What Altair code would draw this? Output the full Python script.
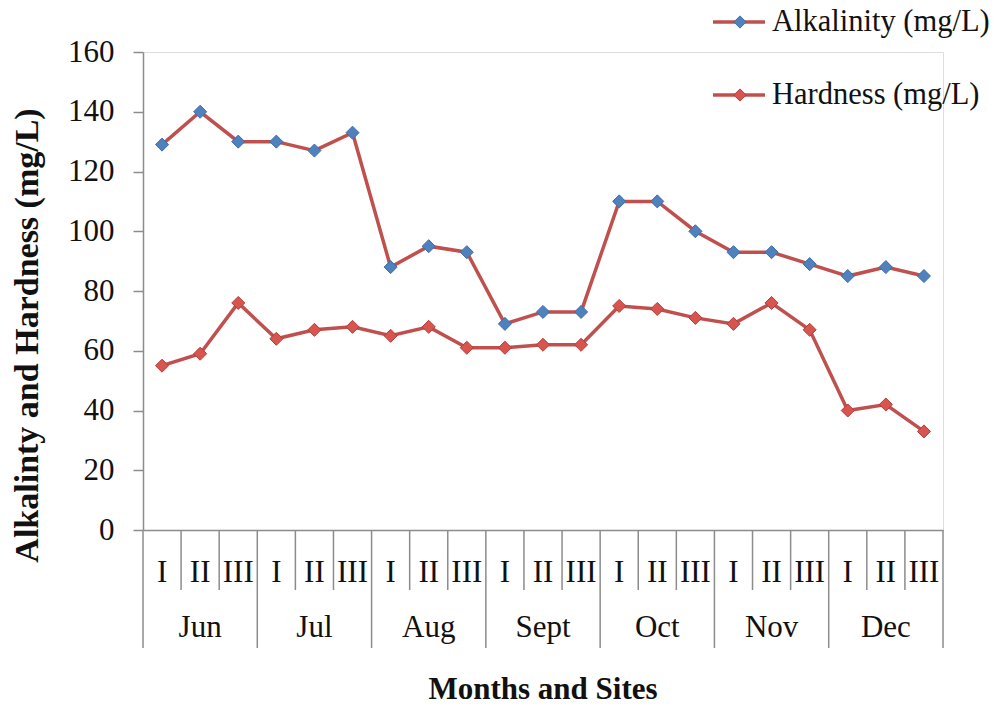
import altair as alt
import pandas as pd

months = ["Jun", "Jul", "Aug", "Sept", "Oct", "Nov", "Dec"]
sites = ["I", "II", "III"]
alkalinity = [129, 140, 130, 130, 127, 133, 88, 95, 93, 69, 73, 73, 110, 110, 100, 93, 93, 89, 85, 88, 85]
hardness = [55, 59, 76, 64, 67, 68, 65, 68, 61, 61, 62, 62, 75, 74, 71, 69, 76, 67, 40, 42, 33]
series_names = ["Alkalinity (mg/L)", "Hardness (mg/L)"]
y_ticks = [0, 20, 40, 60, 80, 100, 120, 140, 160]

FONT = "Liberation Serif"
LINE_RED = "#C0504D"
BLUE_FILL = "#4F81BD"
BLUE_STROKE = "#3C6DAE"
RED_FILL = "#D9534F"
RED_STROKE = "#B23F3B"
AXIS_GREY = "#8C8C8C"

n = len(months) * len(sites)
rows = []
for i in range(n):
    rows.append({"pos": i + 0.5, "value": alkalinity[i], "series": series_names[0],
                 "site": sites[i % 3], "month": months[i // 3]})
for i in range(n):
    rows.append({"pos": i + 0.5, "value": hardness[i], "series": series_names[1],
                 "site": sites[i % 3], "month": months[i // 3]})
df = pd.DataFrame(rows)

site_df = pd.DataFrame({"pos": [i + 0.5 for i in range(n)], "site": [sites[i % 3] for i in range(n)]})
month_df = pd.DataFrame({"pos": [m * 3 + 1.5 for m in range(len(months))], "month": months})
bounds = list(range(n + 1))
sep_df = pd.DataFrame({"b": bounds, "long": [b % 3 == 0 for b in bounds]})

xscale = alt.Scale(domain=[0, n], nice=False, zero=False)
yscale = alt.Scale(domain=[0, 160], nice=False)

x_enc = alt.X("pos:Q", scale=xscale,
              axis=alt.Axis(labels=False, ticks=False, grid=False, title=None,
                            domainColor=AXIS_GREY, domainWidth=1.5))
y_enc = alt.Y("value:Q", scale=yscale,
              axis=alt.Axis(values=y_ticks, grid=False, domainColor=AXIS_GREY, domainWidth=1.5,
                            tickColor=AXIS_GREY, tickSize=10, tickWidth=1.5,
                            labelFont=FONT, labelFontSize=31, labelColor="#111",
                            labelPadding=19,
                            title="Alkalinty and Hardness (mg/L)", titleFont=FONT,
                            titleFontSize=34, titleFontWeight="bold", titleColor="#111",
                            titleAngle=-90, titleX=-116, titleY=283,
                            titleAlign="center", titleBaseline="middle"))

lines = alt.Chart(df).mark_line(color=LINE_RED, strokeWidth=3.5).encode(
    x=x_enc, y=y_enc, detail="series:N")

points = alt.Chart(df).mark_point(shape="diamond", filled=True, size=170, strokeWidth=1, opacity=1).encode(
    x=alt.X("pos:Q", scale=xscale),
    y=alt.Y("value:Q", scale=yscale),
    fill=alt.Fill("series:N", scale=alt.Scale(domain=series_names, range=[BLUE_FILL, RED_FILL]), legend=None),
    stroke=alt.Stroke("series:N", scale=alt.Scale(domain=series_names, range=[BLUE_STROKE, RED_STROKE]), legend=None),
)

seps_long = alt.Chart(sep_df[sep_df["long"]]).mark_rule(color=AXIS_GREY, strokeWidth=1.5).encode(
    x=alt.X("b:Q", scale=xscale), y=alt.value(478), y2=alt.value(596))
seps_short = alt.Chart(sep_df[~sep_df["long"]]).mark_rule(color=AXIS_GREY, strokeWidth=1.5).encode(
    x=alt.X("b:Q", scale=xscale), y=alt.value(478), y2=alt.value(538))

site_text = alt.Chart(site_df).mark_text(font=FONT, fontSize=31, color="#111", baseline="middle").encode(
    x=alt.X("pos:Q", scale=xscale), y=alt.value(521), text="site:N")
month_text = alt.Chart(month_df).mark_text(font=FONT, fontSize=31, color="#111", baseline="middle").encode(
    x=alt.X("pos:Q", scale=xscale), y=alt.value(576), text="month:N")
x_title = alt.Chart(pd.DataFrame({"t": ["Months and Sites"]})).mark_text(
    font=FONT, fontSize=31, fontWeight="bold", color="#111", baseline="middle").encode(
    x=alt.value(400), y=alt.value(638), text="t:N")

# manual legend
leg_df = pd.DataFrame({"series": series_names, "ly": [-30, 43]})
leg_line = alt.Chart(leg_df).mark_rule(color=LINE_RED, strokeWidth=3.5).encode(
    x=alt.value(570), x2=alt.value(622), y=alt.Y("ly:Q", scale=None))
leg_pt = alt.Chart(leg_df).mark_point(shape="diamond", filled=True, size=150, strokeWidth=1, opacity=1).encode(
    x=alt.value(597), y=alt.Y("ly:Q", scale=None),
    fill=alt.Fill("series:N", scale=alt.Scale(domain=series_names, range=[BLUE_FILL, RED_FILL]), legend=None),
    stroke=alt.Stroke("series:N", scale=alt.Scale(domain=series_names, range=[BLUE_STROKE, RED_STROKE]), legend=None))
leg_text = alt.Chart(leg_df).mark_text(font=FONT, fontSize=30.5, color="#111", align="left", baseline="middle").encode(
    x=alt.value(629), y=alt.Y("ly:Q", scale=None), text="series:N")

chart = alt.layer(
    seps_long, seps_short, lines, points, site_text, month_text, x_title,
    leg_line, leg_pt, leg_text
).properties(
    width=800, height=478,
    autosize=alt.AutoSizeParams(type="none"),
    padding={"left": 143, "top": 52, "right": 55, "bottom": 177},
).configure_view(stroke=None).configure(background="white")

chart.save("out.html", embed_options={"renderer": "svg", "actions": False})
